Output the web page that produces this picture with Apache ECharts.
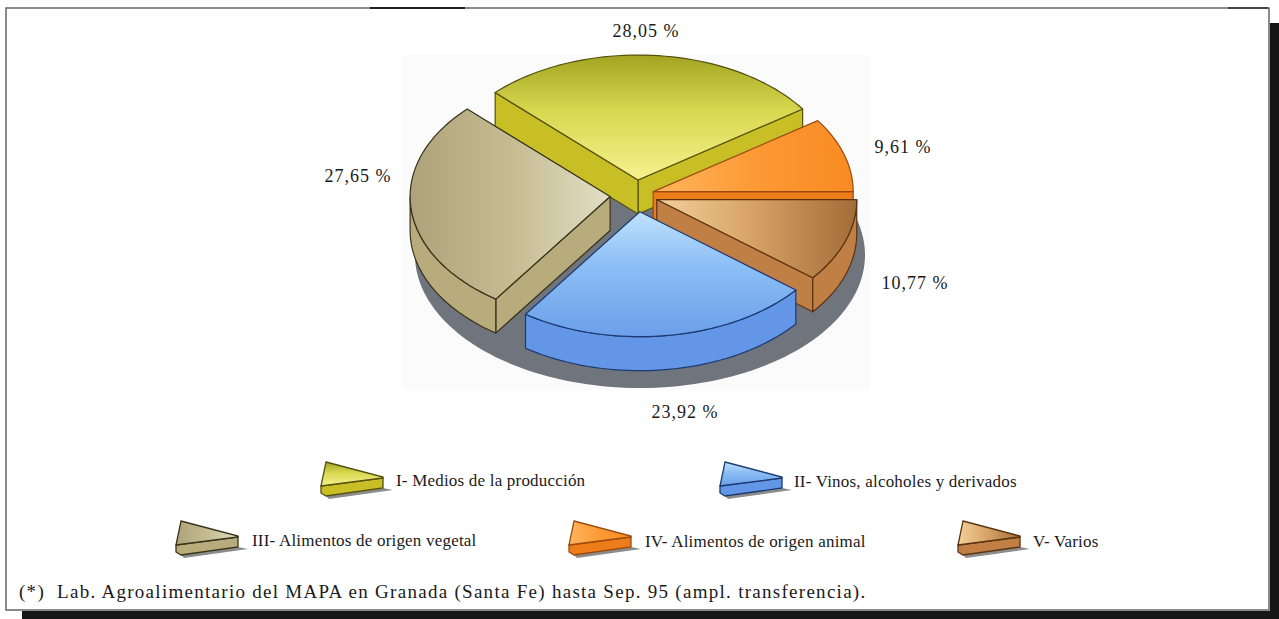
<!DOCTYPE html>
<html><head><meta charset="utf-8">
<style>html,body{margin:0;padding:0;background:#fff}#c{width:1279px;height:619px}
#c svg text[style*="19px"]{letter-spacing:1.28px}
#c svg text[style*="18px"]{letter-spacing:1px}
#c svg text[style*="17px"]{letter-spacing:.2px}
</style>
<script src="https://cdn.jsdelivr.net/npm/echarts@6/dist/echarts.min.js"></script>
</head><body><div id="c"></div>
<script>
// ---- data ----
const categories = ['I- Medios de la producción','II- Vinos, alcoholes y derivados','III- Alimentos de origen vegetal','IV- Alimentos de origen animal','V- Varios'];
const shares = [28.05, 23.92, 27.65, 9.61, 10.77];
const footnote = '(*)  Lab. Agroalimentario del MAPA en Granada (Santa Fe) hasta Sep. 95 (ampl. transferencia).';
// ---- drawing order / styling ----
const clockwiseOrder = [0, 3, 4, 1, 2];   // walk round the pie from the back-left
const paintOrder = [0, 3, 2, 4, 1];       // painter's order, back to front
const startDeg = 135.6;
const explode = [24, 27, 26, 18, 22];
const labelAt = [[646,31],[685,412],[358,176],[903,147],[915,283]];
const legendAt = [[320,460,396,480],[719,460,794,481],[175,519,252,540],[568,519,645,541],[957,519,1033,541]];
const topFill = [
  {x2:0,y2:1,c:[[0,'#a3a522'],[.45,'#d8d850'],[1,'#f5f28e']]},
  {x2:0,y2:1,c:[[0,'#bfe2fc'],[.4,'#8fc0f6'],[1,'#6b9fe9']]},
  {x2:1,y2:0,c:[[0,'#aea27a'],[.5,'#c5bb91'],[1,'#e2dfc4']]},
  {x2:1,y2:0,c:[[0,'#ffb55e'],[.5,'#fc9a35'],[1,'#f98a22']]},
  {x2:1,y2:0,c:[[0,'#f2d19a'],[.45,'#d9a568'],[1,'#a26c38']]}
];
const wallFill = ['#c8bf26','#6396e7','#b8ac7c','#ee7c1a','#bf7f45'];
const edgeCol = ['#55500e','#1d3a70','#37321a','#9a4a0e','#5a3312'];
const C = {x:636, y:195, rx:200, ry:125, depth:34};
const D = Math.PI/180;

const total = shares.reduce((a,b)=>a+b,0);
const spans = {};
(function(){ let a = startDeg;
  clockwiseOrder.forEach(i=>{ const s = shares[i]/total*360; spans[i]={from:a-s,to:a}; a-=s; });
})();
function grad(g){ return new echarts.graphic.LinearGradient(0,0,g.x2,g.y2,g.c.map(p=>({offset:p[0],color:p[1]}))); }
function arcPts(cx,cy,a0,a1,dy){ const r=[]; const n=Math.max(2,Math.ceil(Math.abs(a1-a0)/2));
  for(let k=0;k<=n;k++){ const a=(a0+(a1-a0)*k/n)*D; r.push([cx+C.rx*Math.cos(a), cy-C.ry*Math.sin(a)+(dy||0)]); } return r; }

function renderSlice(params, api){
  const i = api.value(0), s = spans[i];
  const mid=(s.from+s.to)/2*D, e=explode[i];
  const ax=C.x+e*Math.cos(mid), ay=C.y-e*C.ry/C.rx*Math.sin(mid);
  const out=[], stroke={stroke:edgeCol[i],lineWidth:1.2,lineJoin:'round'};
  const wall=(pts)=>out.push({type:'polygon',shape:{points:pts},style:Object.assign({fill:wallFill[i]},stroke)});
  const radial=(deg)=>{ const p=arcPts(ax,ay,deg,deg,0)[0];
    wall([[ax,ay],p,[p[0],p[1]+C.depth],[ax,ay+C.depth]]); };
  if(Math.sin((s.from-90)*D)<-1e-6) radial(s.from);
  if(Math.sin((s.to+90)*D)<-1e-6) radial(s.to);
  // visible outer rim: the part of the arc on the near half of the ellipse
  for(const [lo,hi] of [[180,360],[-180,0]]){
    const a0=Math.max(s.from,lo), a1=Math.min(s.to,hi);
    if(a1>a0){ const t=arcPts(ax,ay,a0,a1,0), b=arcPts(ax,ay,a0,a1,C.depth).reverse(); wall(t.concat(b)); }
  }
  const topPts=[[ax,ay]].concat(arcPts(ax,ay,s.from,s.to,0));
  out.push({type:'polygon',shape:{points:topPts},style:Object.assign({fill:grad(topFill[i])},stroke)});
  return {type:'group',children:out};
}
function renderShadow(){
  const pts=[]; for(let a=0;a<360;a+=2){ pts.push([640+225*Math.cos(a*D),255+133*Math.sin(a*D)]); }
  return {type:'group',children:[
    {type:'rect',shape:{x:403,y:55,width:467,height:335},style:{fill:'#fbfbfb'}},
    {type:'polygon',shape:{points:pts},style:{fill:'#6f747d'}}
  ]};
}
function renderLabel(params, api){
  const i=api.value(0), p=labelAt[i];
  return {type:'text',style:{text:shares[i].toFixed(2).replace('.',',')+' %',x:p[0],y:p[1],align:'center',verticalAlign:'middle',font:'18px "Liberation Serif"',fill:'#1a1a1a'}};
}
function renderLegend(params, api){
  const i=api.value(0), [x,y,tx,ty]=legendAt[i];
  const st={stroke:edgeCol[i],lineWidth:1.3};
  return {type:'group',children:[
    {type:'polygon',shape:{points:[[x+6,y+36],[x+63,y+28],[x+73,y+30],[x+9,y+39]]},style:{fill:'#8c8c8c'}},
    {type:'polygon',shape:{points:[[x+1,y+26],[x+63,y+18],[x+63,y+28],[x+6,y+36],[x+1,y+33]]},style:Object.assign({fill:wallFill[i]},st)},
    {type:'polygon',shape:{points:[[x+6,y+2],[x+63,y+17],[x+63,y+18],[x+1,y+26]]},style:Object.assign({fill:grad(topFill[i])},st)},
    {type:'text',style:{text:categories[i],x:tx,y:ty,align:'left',verticalAlign:'middle',font:'17px "Liberation Serif"',fill:'#1a1a1a'}}
  ]};
}
const chart = echarts.init(document.getElementById('c'),null,{renderer:'svg'});
chart.setOption({
  animation:false,
  backgroundColor:'#fff',
  graphic:[
    {type:'rect',z:0,shape:{x:1270,y:23,width:9,height:596},style:{fill:'#161616'}},
    {type:'rect',z:0,shape:{x:22,y:611,width:1257,height:8},style:{fill:'#161616'}},
    {type:'rect',z:1,silent:true,shape:{x:6,y:8,width:1263,height:602},style:{fill:'#fff',stroke:'#666',lineWidth:1.5}},
    {type:'line',z:1,shape:{x1:370,y1:8,x2:465,y2:8},style:{stroke:'#222',lineWidth:2}},
    {type:'line',z:1,shape:{x1:1228,y1:8,x2:1268,y2:8},style:{stroke:'#444',lineWidth:2}},
    {type:'text',z:3,style:{text:footnote,x:19,y:591,align:'left',verticalAlign:'middle',font:'19px "Liberation Serif"',fill:'#1a1a1a'}}
  ],
  series:[
    {type:'custom',coordinateSystem:'none',silent:true,z:2,data:[[total]],renderItem:renderShadow},
    {type:'custom',coordinateSystem:'none',silent:true,z:3,data:paintOrder.map(i=>[i,shares[i]]),renderItem:renderSlice},
    {type:'custom',coordinateSystem:'none',silent:true,z:4,data:shares.map((v,i)=>[i,v]),renderItem:renderLabel},
    {type:'custom',coordinateSystem:'none',silent:true,z:4,data:categories.map((c,i)=>[i,c]),renderItem:renderLegend}
  ]
});
</script></body></html>
